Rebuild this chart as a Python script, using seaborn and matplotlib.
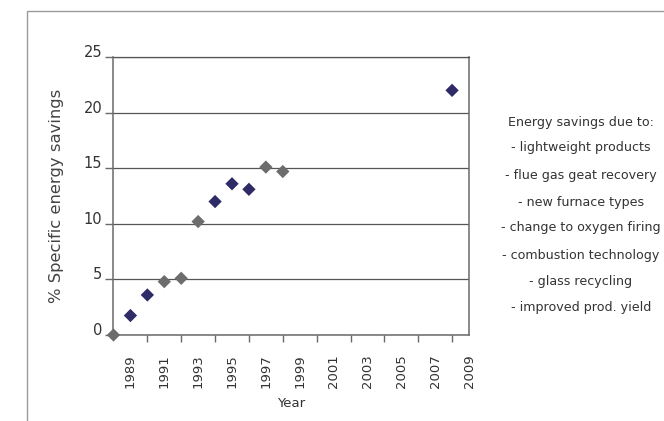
import matplotlib
matplotlib.use("Agg")
import matplotlib.pyplot as plt
import seaborn as sns
import pandas as pd
from matplotlib.patches import Rectangle

years = [1988, 1989, 1990, 1991, 1992, 1993, 1994, 1995, 1996, 1997, 1998, 2008]
savings = [0.0, 1.75, 3.6, 4.8, 5.1, 10.2, 12.0, 13.6, 13.1, 15.1, 14.7, 22.0]
groups = ["grey", "navy", "navy", "grey", "grey", "grey", "navy", "navy", "navy", "grey", "grey", "navy"]
tick_years = [1989, 1991, 1993, 1995, 1997, 1999, 2001, 2003, 2005, 2007, 2009]
note_lines = ["Energy savings due to:", "- lightweight products", "- flue gas geat recovery",
              "- new furnace types", "- change to oxygen firing", "- combustion technology",
              "- glass recycling", "- improved prod. yield"]

df = pd.DataFrame({"Year": years, "Savings": savings, "grp": groups})

sns.set_theme(style="white")
plt.rcParams["font.family"] = ["DejaVu Sans"]

fig = plt.figure(figsize=(6.64, 4.21), dpi=100)
fig.patch.set_facecolor("white")
W, H = 664, 421
ax = fig.add_axes([113.5 / W, (H - 335) / H, (469 - 113.5) / W, (335 - 57) / H])

palette = {"grey": "#6c6c6c", "navy": "#2e2b66"}
sns.scatterplot(data=df, x="Year", y="Savings", hue="grp", palette=palette,
                marker="D", s=46, linewidth=0, legend=False, ax=ax, clip_on=False, zorder=5)

ax.set_xlim(1988, 2009)
ax.set_ylim(0, 25)
line_c = "#6a6a6a"
ax.set_yticks([0, 5, 10, 15, 20, 25])
ax.yaxis.grid(True, color="#555555", linewidth=0.9)
ax.xaxis.grid(False)
ax.set_axisbelow(True)

even = list(range(1990, 2009, 2))
ax.set_xticks(even)
ax.set_xticklabels([])
ax.set_xticks(tick_years, minor=True)
ax.set_xticklabels([str(y) for y in tick_years], minor=True, rotation=90)
ax.tick_params(axis="x", which="major", direction="out", length=5, width=1, color=line_c, bottom=True)
ax.tick_params(axis="x", which="minor", length=0, pad=14, labelsize=9.5, labelcolor="#333333")
ax.tick_params(axis="y", direction="out", length=6, width=1, color=line_c, left=True, pad=2,
               labelsize=10.5, labelcolor="#333333")
for lab in ax.get_yticklabels():
    lab.set_verticalalignment("baseline")

for side in ["left", "bottom", "right"]:
    ax.spines[side].set_visible(True)
    ax.spines[side].set_color(line_c)
    ax.spines[side].set_linewidth(1.1)
ax.spines["top"].set_color("#555555")
ax.spines["top"].set_linewidth(0.9)

ax.set_xlabel("Year", fontsize=9.5, color="#333333", labelpad=6)
ax.set_ylabel("% Specific energy savings", fontsize=11.8, color="#444444", labelpad=14)

ys = [122, 148, 175, 202, 228, 255, 282, 308]
for t, y in zip(note_lines, ys):
    fig.text(581 / W, 1 - y / H, t, ha="center", va="center", fontsize=9.1, color="#333333")

fig.patches.append(Rectangle((27 / W, -0.1), 1.0, 1 - 11 / H + 0.1, transform=fig.transFigure,
                             fill=False, edgecolor="#9a9a9a", linewidth=1.0))

fig.savefig("out.png", dpi=100)
